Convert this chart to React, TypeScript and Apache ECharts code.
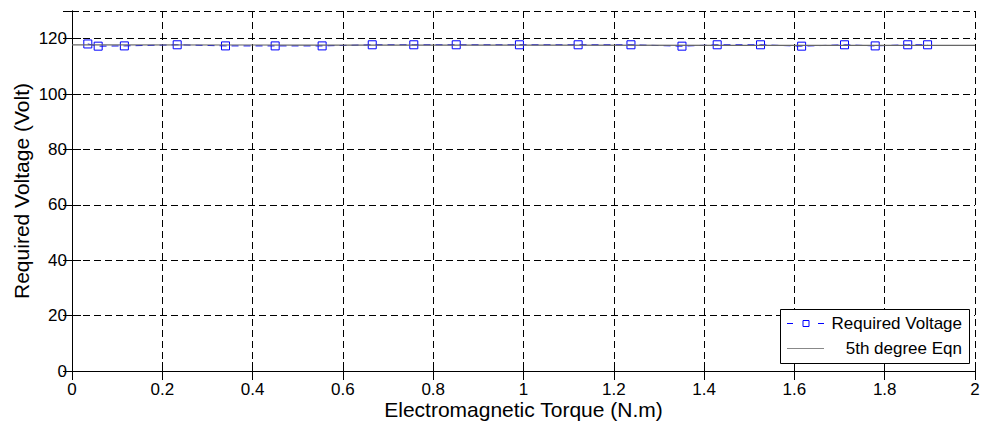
import React, { useEffect, useRef } from "react";
import * as echarts from "echarts";

const torque = [0.035, 0.058, 0.116, 0.233, 0.34, 0.45, 0.554, 0.665, 0.757, 0.851, 0.991, 1.121, 1.238, 1.351, 1.429, 1.525, 1.616, 1.711, 1.779, 1.851, 1.895];
const voltage = [118.1, 117.3, 117.4, 117.8, 117.4, 117.4, 117.4, 117.8, 117.8, 117.8, 117.8, 117.8, 117.8, 117.3, 117.8, 117.8, 117.3, 117.8, 117.4, 117.8, 117.8];
const fitX = [0, 0.5, 1, 1.5, 2];
const fitY = [117.8, 117.7, 117.7, 117.6, 117.6];

const FONT = "'Liberation Sans', Arial, sans-serif";

export default function App() {
  const ref = useRef<HTMLDivElement>(null);
  useEffect(() => {
    if (!ref.current) return;
    const chart = echarts.init(ref.current, undefined, { renderer: "svg" });
    const axisCommon = {
      axisLine: { show: true, lineStyle: { color: "#000", width: 1 } },
      axisTick: { show: true, inside: true, length: 9, lineStyle: { color: "#000" } },
    };
    chart.setOption({
      animation: false,
      backgroundColor: "#fff",
      textStyle: { fontFamily: FONT },
      grid: { left: 72, right: 9, top: 11, bottom: 52, containLabel: false, outerBoundsMode: "none" },
      xAxis: [
        {
          type: "value", min: 0, max: 2, interval: 0.2, position: "bottom",
          ...axisCommon,
          axisLabel: { color: "#000", fontSize: 17, fontFamily: FONT, margin: 10 },
          splitLine: { show: true, lineStyle: { color: "#000", type: [7, 4], width: 1 } },
          name: "Electromagnetic Torque (N.m)", nameLocation: "middle", nameGap: 28, nameMoveOverlap: false,
          nameTextStyle: { color: "#000", fontSize: 21, fontFamily: FONT },
        },
        {
          type: "value", min: 0, max: 2, interval: 0.2, position: "top",
          ...axisCommon, axisLabel: { show: false }, splitLine: { show: false },
        },
      ],
      yAxis: [
        {
          type: "value", min: 0, max: 130, interval: 20, position: "left",
          ...axisCommon,
          axisLabel: { color: "#000", fontSize: 17, fontFamily: FONT, margin: 5, showMaxLabel: false,
            formatter: (v: number) => (v > 120 ? "" : String(v)) },
          splitLine: { show: true, lineStyle: { color: "#000", type: [7, 4], width: 1 } },
          name: "Required Voltage (Volt)", nameLocation: "middle", nameGap: 40, nameMoveOverlap: false,
          nameTextStyle: { color: "#000", fontSize: 21, fontFamily: FONT },
        },
        {
          type: "value", min: 0, max: 130, interval: 20, position: "right",
          ...axisCommon, axisLabel: { show: false }, splitLine: { show: false },
        },
      ],
      series: [
        {
          name: "Required Voltage", type: "line",
          data: torque.map((x, i) => [x, voltage[i]]),
          symbol: "rect", symbolSize: 8, showSymbol: true,
          lineStyle: { color: "#0000ff", width: 1, type: [7, 5] },
          itemStyle: { color: "rgba(0,0,0,0)", borderColor: "#0000ff", borderWidth: 1 },
          z: 3,
        },
        {
          name: "5th degree Eqn", type: "line",
          data: fitX.map((x, i) => [x, fitY[i]]),
          symbol: "none",
          lineStyle: { color: "#666", width: 1.2 },
          z: 4,
        },
      ],
      graphic: [
        { type: "rect", z: 100, shape: { x: 780.5, y: 309.5, width: 189, height: 54 }, style: { fill: "#fff", stroke: "#000", lineWidth: 1 } },
        { type: "line", z: 101, shape: { x1: 787, y1: 323.5, x2: 793, y2: 323.5 }, style: { stroke: "#0000ff", lineWidth: 1 } },
        { type: "rect", z: 101, shape: { x: 803, y: 320.5, width: 6, height: 6 }, style: { fill: "none", stroke: "#0000ff", lineWidth: 1 } },
        { type: "line", z: 101, shape: { x1: 818, y1: 323.5, x2: 824, y2: 323.5 }, style: { stroke: "#0000ff", lineWidth: 1 } },
        { type: "text", z: 101, x: 962, y: 323.5, style: { text: "Required Voltage", fill: "#000", font: `17px ${FONT}`, textAlign: "right", textVerticalAlign: "middle" } },
        { type: "line", z: 101, shape: { x1: 787, y1: 348.5, x2: 824, y2: 348.5 }, style: { stroke: "#888", lineWidth: 1.2 } },
        { type: "text", z: 101, x: 962, y: 348.5, style: { text: "5th degree Eqn", fill: "#000", font: `17px ${FONT}`, textAlign: "right", textVerticalAlign: "middle" } },
      ],
    });
    return () => chart.dispose();
  }, []);
  return <div ref={ref} style={{ width: 984, height: 423, position: "fixed", left: 0, top: 0 }} />;
}
